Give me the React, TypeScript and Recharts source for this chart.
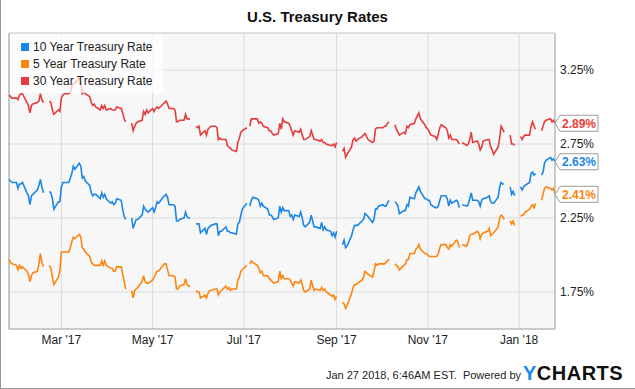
import {
  CartesianGrid,
  LabelList,
  Legend,
  Line,
  LineChart,
  ReferenceLine,
  XAxis,
  YAxis,
} from "recharts";

const FONT = "Arial, 'Liberation Sans', sans-serif";
const BLUE = "#1a87e6";
const ORANGE = "#ff8510";
const RED = "#e63c3c";

// x is days since Jan 25 2017; rows run Mon..Fri, first Monday is Jan 23 2017
const firstMonday = -2;

// one line per week (Mon, Tue, Wed, Thu, Fri); null = market holiday / outside range
const tenYear = [
  null, null, 2.51, 2.5, 2.49,
  2.49, 2.45, 2.48, 2.48, 2.49,
  2.42, 2.4, 2.34, 2.4, 2.41,
  2.44, 2.47, 2.51, 2.46, 2.42,
  null, 2.43, 2.42, 2.38, 2.31,
  2.36, 2.36, 2.46, 2.49, 2.49,
  2.49, 2.52, 2.55, 2.6, 2.58,
  2.62, 2.6, 2.52, 2.53, 2.5,
  2.47, 2.42, 2.4, 2.41, 2.41,
  2.38, 2.42, 2.39, 2.41, 2.38,
  2.35, 2.36, 2.34, 2.35, 2.38,
  2.37, 2.31, 2.26, 2.24, null,
  2.25, 2.18, 2.21, 2.24, 2.24,
  2.27, 2.33, 2.31, 2.3, 2.29,
  2.32, 2.29, 2.32, 2.36, 2.35,
  2.39, 2.4, 2.41, 2.39, 2.34,
  2.34, 2.33, 2.23, 2.23, 2.24,
  2.25, 2.29, 2.26, 2.25, 2.25,
  null, 2.21, 2.21, 2.21, 2.15,
  2.18, 2.14, 2.18, 2.19, 2.2,
  2.21, 2.21, 2.13, 2.16, 2.16,
  2.19, 2.16, 2.16, 2.15, 2.15,
  2.14, 2.21, 2.22, 2.27, 2.31,
  2.35, null, 2.33, 2.37, 2.39,
  2.38, 2.37, 2.33, 2.35, 2.33,
  2.31, 2.27, 2.27, 2.26, 2.24,
  2.25, 2.33, 2.29, 2.32, 2.3,
  2.3, 2.26, 2.27, 2.24, 2.27,
  2.26, 2.29, 2.25, 2.2, 2.19,
  2.22, 2.27, 2.23, 2.19, 2.19,
  2.18, 2.22, 2.17, 2.19, 2.17,
  2.16, 2.13, 2.15, 2.12, 2.16,
  null, 2.07, 2.1, 2.05, 2.06,
  2.13, 2.17, 2.2, 2.2, 2.2,
  2.23, 2.24, 2.28, 2.27, 2.26,
  2.22, 2.24, 2.31, 2.31, 2.33,
  2.34, 2.33, 2.33, 2.35, 2.37,
  null, 2.36, 2.35, 2.33, 2.28,
  2.3, 2.3, 2.34, 2.33, 2.39,
  2.38, 2.42, 2.44, 2.46, 2.43,
  2.38, 2.38, 2.37, 2.37, 2.34,
  2.32, 2.32, 2.33, 2.37, 2.4,
  2.4, 2.38, 2.33, 2.37, 2.35,
  2.37, 2.36, 2.32, null, 2.34,
  2.33, 2.34, 2.38, 2.42, 2.37,
  2.37, 2.36, 2.33, 2.37, 2.38,
  2.39, 2.4, 2.36, 2.35, 2.35,
  2.39, 2.46, 2.49, 2.48, 2.48,
  null, 2.46, 2.41, 2.43, 2.4,
  null, 2.46, 2.44, 2.46, 2.47,
  2.49, 2.55, 2.56, 2.54, 2.55,
  null, 2.54, 2.56, 2.62, 2.64,
  2.66, 2.64, 2.65, 2.63, null,
];

const fiveYear = [
  null, null, 1.97, 1.95, 1.94,
  1.93, 1.9, 1.93, 1.91, 1.92,
  1.89, 1.87, 1.82, 1.86, 1.88,
  1.89, 1.94, 2.01, 1.95, 1.92,
  null, 1.93, 1.91, 1.85, 1.8,
  1.85, 1.89, 2.02, 2.02, 2.02,
  2.02, 2.05, 2.09, 2.12, 2.11,
  2.14, 2.12, 2.05, 2.04, 2.02,
  1.99, 1.95, 1.94, 1.93, 1.93,
  1.93, 1.96, 1.93, 1.96, 1.93,
  1.91, 1.91, 1.89, 1.89, 1.92,
  1.92, 1.87, 1.82, 1.77, null,
  1.76, 1.71, 1.76, 1.77, 1.78,
  1.82, 1.86, 1.82, 1.81, 1.81,
  1.83, 1.85, 1.87, 1.89, 1.89,
  1.93, 1.94, 1.94, 1.9, 1.86,
  1.86, 1.85, 1.77, 1.77, 1.79,
  1.8, 1.84, 1.8, 1.79, 1.79,
  null, 1.76, 1.75, 1.75, 1.71,
  1.73, 1.71, 1.74, 1.76, 1.76,
  1.77, 1.77, 1.73, 1.75, 1.76,
  1.79, 1.77, 1.78, 1.76, 1.77,
  1.77, 1.83, 1.85, 1.89, 1.9,
  1.93, null, 1.94, 1.96, 1.95,
  1.93, 1.91, 1.88, 1.89, 1.86,
  1.86, 1.84, 1.83, 1.82, 1.81,
  1.82, 1.89, 1.84, 1.86, 1.84,
  1.84, 1.83, 1.81, 1.79, 1.82,
  1.81, 1.83, 1.8, 1.76, 1.75,
  1.77, 1.83, 1.79, 1.76, 1.77,
  1.76, 1.78, 1.76, 1.77, 1.75,
  1.73, 1.72, 1.73, 1.7, 1.72,
  null, 1.68, 1.67, 1.64, 1.66,
  1.74, 1.78, 1.8, 1.8, 1.81,
  1.83, 1.85, 1.89, 1.88, 1.87,
  1.85, 1.89, 1.94, 1.93, 1.94,
  1.94, 1.94, 1.95, 1.96, 1.97,
  null, 1.94, 1.93, 1.92, 1.9,
  1.93, 1.94, 1.97, 1.97, 2.01,
  2.01, 2.04, 2.05, 2.07, 2.04,
  2.01, 2.01, 2.0, 1.99, 1.99,
  1.99, 1.99, 2.01, 2.05, 2.07,
  2.07, 2.05, 2.04, 2.07, 2.06,
  2.1, 2.09, 2.05, null, 2.07,
  2.06, 2.09, 2.13, 2.14, 2.14,
  2.16, 2.15, 2.11, 2.14, 2.15,
  2.16, 2.18, 2.13, 2.14, 2.15,
  2.19, 2.25, 2.27, 2.26, 2.24,
  null, 2.23, 2.21, 2.23, 2.2,
  null, 2.26, 2.27, 2.27, 2.29,
  2.31, 2.33, 2.34, 2.32, 2.35,
  null, 2.37, 2.41, 2.45, 2.46,
  2.45, 2.44, 2.45, 2.41, null,
];

const thirtyYear = [
  null, null, 3.08, 3.07, 3.06,
  3.06, 3.05, 3.08, 3.09, 3.09,
  3.03, 3.01, 2.96, 3.01, 3.02,
  3.03, 3.04, 3.09, 3.05, 3.03,
  null, 3.04, 3.03, 2.98, 2.95,
  2.98, 2.97, 3.06, 3.08, 3.09,
  3.09, 3.1, 3.14, 3.16, 3.16,
  3.2, 3.17, 3.09, 3.1, 3.09,
  3.07, 3.03, 3.01, 3.02, 3.0,
  2.98, 3.01, 2.99, 3.01, 2.98,
  2.99, 2.98, 2.98, 2.98, 3.0,
  2.99, 2.96, 2.92, 2.9, null,
  2.89, 2.84, 2.87, 2.89, 2.9,
  2.91, 2.97, 2.95, 2.98, 2.96,
  2.99, 2.97, 2.99, 3.0, 2.99,
  3.02, 3.03, 3.04, 3.02, 2.99,
  2.99, 2.98, 2.9, 2.9, 2.91,
  2.91, 2.95, 2.92, 2.92, 2.92,
  null, 2.87, 2.86, 2.87, 2.81,
  2.84, 2.81, 2.85, 2.86, 2.87,
  2.87, 2.86, 2.78, 2.79, 2.78,
  2.78, 2.74, 2.73, 2.72, 2.71,
  2.7, 2.76, 2.79, 2.83, 2.84,
  2.86, null, 2.87, 2.92, 2.92,
  2.92, 2.89, 2.9, 2.89, 2.87,
  2.86, 2.84, 2.84, 2.82, 2.81,
  2.82, 2.89, 2.85, 2.92, 2.9,
  2.89, 2.87, 2.84, 2.81, 2.84,
  2.83, 2.85, 2.81, 2.78, 2.78,
  2.8, 2.84, 2.81, 2.78, 2.78,
  2.77, 2.78, 2.76, 2.76, 2.75,
  2.74, 2.74, 2.75, 2.73, 2.76,
  null, 2.7, 2.72, 2.66, 2.68,
  2.73, 2.78, 2.79, 2.77, 2.78,
  2.8, 2.81, 2.82, 2.8, 2.78,
  2.76, 2.77, 2.85, 2.86, 2.86,
  2.86, 2.87, 2.87, 2.89, 2.9,
  null, 2.88, 2.85, 2.83, 2.81,
  2.83, 2.82, 2.87, 2.86, 2.88,
  2.89, 2.92, 2.94, 2.96, 2.92,
  2.88, 2.86, 2.85, 2.83, 2.81,
  2.8, 2.78, 2.82, 2.86, 2.88,
  2.86, 2.84, 2.79, 2.81, 2.78,
  2.78, 2.77, 2.75, null, 2.76,
  2.74, 2.75, 2.78, 2.83, 2.76,
  2.77, 2.75, 2.71, 2.73, 2.77,
  2.78, 2.78, 2.73, 2.71, 2.68,
  2.73, 2.79, 2.87, 2.85, 2.83,
  null, 2.81, 2.75, 2.75, 2.74,
  null, 2.8, 2.78, 2.8, 2.81,
  2.81, 2.87, 2.9, 2.87, 2.85,
  null, 2.84, 2.87, 2.9, 2.91,
  2.92, 2.9, 2.91, 2.89, null,
];

const tickDays = [35, 96, 157, 219, 280, 341];
const tickLabels = ["Mar '17", "May '17", "Jul '17", "Sep '17", "Nov '17", "Jan '18"];
const yTicks = [1.75, 2.25, 2.75, 3.25];

const series = [
  { key: "ten", name: "10 Year Treasury Rate", color: BLUE },
  { key: "five", name: "5 Year Treasury Rate", color: ORANGE },
  { key: "thirty", name: "30 Year Treasury Rate", color: RED },
];

const rows = tenYear
  .map((_, i) => ({
    d: firstMonday + Math.floor(i / 5) * 7 + (i % 5),
    ten: tenYear[i],
    five: fiveYear[i],
    thirty: thirtyYear[i],
  }))
  .filter((r) => r.d >= 0 && r.d <= 365);

const lastIndex = rows.length - 1;

const endTag = (color: string) => (props: any) => {
  const { index, value } = props;
  const x = props.x ?? props.viewBox?.x;
  const y = props.y ?? props.viewBox?.y;
  if (index !== lastIndex || value == null || x == null || y == null) return <g />;
  return (
    <g>
      <path
        d={`M${x},${y} L${x + 5},${y - 8} L${x + 43},${y - 8} L${x + 43},${y + 8} L${x + 5},${y + 8} Z`}
        fill="#fff"
        stroke="#9a9a9a"
      />
      <text
        x={x + 7}
        y={y}
        dy="0.36em"
        fill={color}
        fontSize={12}
        fontWeight="bold"
        fontFamily={FONT}
      >
        {Number(value).toFixed(2)}%
      </text>
    </g>
  );
};

function LegendBox() {
  return (
    <div
      style={{
        background: "rgba(255,255,255,0.72)",
        width: 153,
        height: 59,
        paddingTop: 4,
        boxSizing: "border-box",
        fontFamily: FONT,
        fontSize: 12,
        color: "#222",
      }}
    >
      {series.map((s) => (
        <div
          key={s.key}
          style={{ display: "flex", alignItems: "center", height: 17, paddingLeft: 11 }}
        >
          <span style={{ width: 8, height: 8, background: s.color, marginRight: 4 }} />
          {s.name}
        </div>
      ))}
    </div>
  );
}

export default function App() {
  return (
    <div
      style={{
        position: "absolute",
        left: 0,
        top: 0,
        width: 635,
        height: 389,
        background: "#fff",
        fontFamily: FONT,
      }}
    >
      <div
        style={{
          position: "absolute",
          left: 0,
          top: 8,
          width: 635,
          textAlign: "center",
          fontSize: 15,
          fontWeight: "bold",
          lineHeight: "18px",
          color: "#111",
        }}
      >
        U.S. Treasury Rates
      </div>
      <LineChart width={635} height={389} data={rows} margin={{ top: 33, right: 0, bottom: 0, left: 9 }}>
        <CartesianGrid stroke="#dadada" fill="#f7f7f7" />
        <XAxis
          dataKey="d"
          type="number"
          domain={[0, 365]}
          ticks={tickDays}
          interval={0}
          tickFormatter={(v) => tickLabels[tickDays.indexOf(v)] ?? ""}
          tickLine={false}
          tickSize={0}
          tickMargin={6}
          height={60}
          axisLine={{ stroke: "#a8a8a8" }}
          tick={{ fill: "#222", fontSize: 12, fontFamily: FONT }}
        />
        <YAxis
          orientation="right"
          type="number"
          domain={[1.5, 3.5]}
          ticks={yTicks}
          interval={0}
          tickFormatter={(v) => `${Number(v).toFixed(2)}%`}
          tickLine={false}
          tickSize={0}
          tickMargin={5}
          width={80}
          axisLine={{ stroke: "#a8a8a8" }}
          tick={{ fill: "#222", fontSize: 12, fontFamily: FONT }}
        />
        <ReferenceLine x={0} stroke="#a0a0a0" />
        <ReferenceLine y={3.5} stroke="#d4d4d4" />
        {series.map((s) => (
          <Line
            key={s.key}
            type="linear"
            dataKey={s.key}
            name={s.name}
            stroke={s.color}
            strokeWidth={1.6}
            dot={false}
            activeDot={false}
            isAnimationActive={false}
          >
            <LabelList dataKey={s.key} content={endTag(s.color)} />
          </Line>
        ))}
        <Legend
          layout="vertical"
          align="center"
          verticalAlign="middle"
          content={() => <LegendBox />}
          wrapperStyle={{ left: 10, top: 34, width: 153, height: 59 }}
        />
      </LineChart>
      <div
        style={{
          position: "absolute",
          left: 200,
          width: 321,
          top: 369,
          textAlign: "right",
          fontSize: 11,
          lineHeight: "13px",
          color: "#222",
          whiteSpace: "pre",
        }}
      >
        {"Jan 27 2018, 6:46AM EST.  Powered by"}
      </div>
      <div
        style={{
          position: "absolute",
          left: 523,
          top: 362,
          fontSize: 20,
          fontWeight: "bold",
          lineHeight: "22px",
          letterSpacing: 0.5,
          color: "#111",
        }}
      >
        <span style={{ color: "#1a8be8" }}>Y</span>CHARTS
      </div>
      <div
        style={{
          position: "absolute",
          left: 0,
          top: 0,
          width: 635,
          height: 389,
          boxSizing: "border-box",
          borderLeft: "1px solid #9a9a9a",
          borderBottom: "1px solid #9a9a9a",
          pointerEvents: "none",
        }}
      />
    </div>
  );
}
